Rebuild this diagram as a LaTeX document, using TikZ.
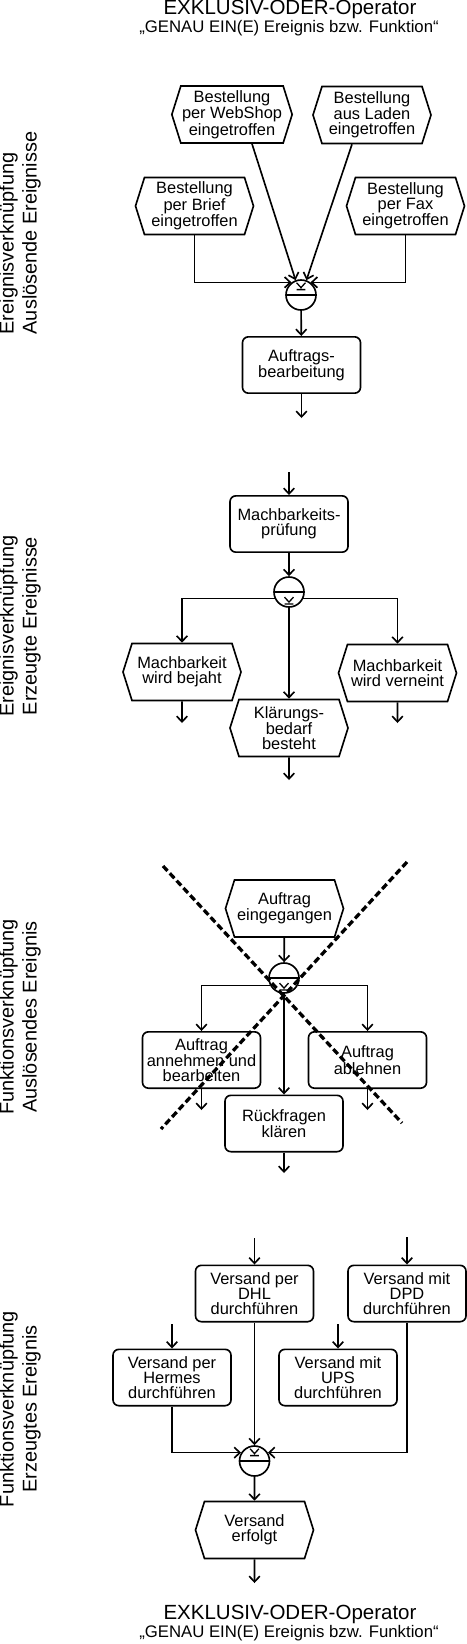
\documentclass[tikz,border=0pt]{standalone}
\usepackage{fontspec}
\setmainfont{Liberation Sans}
\usepackage{tikz}
\usetikzlibrary{arrows.meta,shapes.symbols,calc}
\newcommand{\diagfont}{\fontsize{14}{12.8}\selectfont}
% V mit Strich darunter (XOR-Zeichen), #1 = oberes Ende, #2 = Spitze, #3 = Strich
\newcommand{\xorMark}[3]{\draw[line width=1.1pt]
  ([shift={(-3.8pt,#1)}]path picture bounding box.center) --
  ([shift={(0pt,#2)}]path picture bounding box.center) --
  ([shift={(3.8pt,#1)}]path picture bounding box.center)
  ([shift={(-3.8pt,#3)}]path picture bounding box.center) --
  ([shift={(3.8pt,#3)}]path picture bounding box.center);}
\tikzstyle{eventNode}=[shape=signal, signal to=west and east, signal pointer angle=145,
  draw, line width=1.4pt, minimum width=3.54cm, minimum height=1.71cm, inner sep=1pt,
  align=center, font=\diagfont]
\tikzstyle{functionNode}=[rectangle, rounded corners=5pt, draw, line width=1.4pt,
  minimum width=3.54cm, minimum height=1.69cm, inner sep=1pt, align=center, font=\diagfont]
\tikzstyle{xorNode}=[circle, draw, line width=1.4pt, minimum size=0.9cm, inner sep=0pt]
\tikzstyle{xorUp}=[xorNode, path picture={\draw[line width=1.4pt] (path picture bounding box.west) -- (path picture bounding box.east);
  \xorMark{10.5pt}{6.3pt}{4.6pt}}]
\tikzstyle{xorDown}=[xorNode, path picture={\draw[line width=1.4pt] (path picture bounding box.west) -- (path picture bounding box.east);
  \xorMark{-4.4pt}{-8.6pt}{-10.3pt}}]
\tikzstyle{sideText}=[rotate=90, align=center, font=\fontsize{17}{19.6}\selectfont]
\tikzstyle{titleText}=[font=\fontsize{17.5}{20}\selectfont, inner sep=0pt]
\tikzstyle{subText}=[font=\fontsize{14.3}{16}\selectfont, inner sep=0pt]
\tikzstyle{arr}=[-{Straight Barb[length=1.7mm,width=3.2mm]}, line width=1.4pt]
\tikzstyle{crossLine}=[line width=2.8pt, dash pattern=on 2mm off 1mm]

\begin{document}
\begin{tikzpicture}[x=0.3mm, y=-0.3mm]
\useasboundingbox (0,0) rectangle (467,1644);
\node[titleText] (titleTop) at (290,9) {EXKLUSIV-ODER-Operator};
\node[subText] (subTop) at (289,28) {„GENAU EIN(E) Ereignis bzw. Funktion“};

% Ereignisverknuepfung, ausloesende Ereignisse
\node[sideText, align=left] (sideA) at (20,233) {Ereignisverknüpfung\\Auslösende Ereignisse};
\node[eventNode] (evWeb) at (232,114.5) {Bestellung\\per WebShop\\eingetroffen};
\node[eventNode] (evLaden) at (372,115) {Bestellung\\aus Laden\\eingetroffen};
\node[eventNode] (evBrief) at (194.5,206) {Bestellung\\per Brief\\eingetroffen};
\node[eventNode] (evFax) at (405.5,206) {Bestellung\\per Fax\\eingetroffen};
\node[xorUp] (xorA) at (301,295) {};
\node[functionNode] (fnAuftrag) at (301.5,365) {Auftrags-\\bearbeitung};
\coordinate (outAuftrag) at (301.5,418);

\draw[arr] ($(evWeb.south)+(20,0)$) -- (xorA.110);
\draw[arr] ($(evLaden.south)+(-20,0)$) -- (xorA.70);
\draw[arr] (evBrief.south) |- (xorA.127);
\draw[arr] (evFax.south) |- (xorA.53);
\draw[arr] (xorA) -- (fnAuftrag);
\draw[arr] (fnAuftrag) -- (outAuftrag);

% Ereignisverknuepfung, erzeugte Ereignisse
\node[sideText] (sideB) at (20,626) {Ereignisverknüpfung\\Erzeugte Ereignisse};
\coordinate (inMach) at (289,472);
\node[functionNode] (fnMach) at (289,524) {Machbarkeits-\\prüfung};
\node[xorDown] (xorB) at (289,592) {};
\node[eventNode] (evBejaht) at (182,672) {Machbarkeit\\wird bejaht};
\node[eventNode] (evVerneint) at (397.5,673) {Machbarkeit\\wird verneint};
\node[eventNode] (evKlaer) at (289,728) {Klärungs-\\bedarf\\besteht};
\coordinate (outBejaht) at (182,723);
\coordinate (outVerneint) at (397.5,723);
\coordinate (outKlaer) at (289,780);

\draw[arr] (inMach) -- (fnMach);
\draw[arr] (fnMach) -- (xorB);
\draw[arr] (xorB.204) -| (evBejaht.north);
\draw[arr] (xorB.336) -| (evVerneint.north);
\draw[arr] (xorB) -- (evKlaer);
\draw[arr] (evBejaht) -- (outBejaht);
\draw[arr] (evVerneint) -- (outVerneint);
\draw[arr] (evKlaer) -- (outKlaer);

% Funktionsverknuepfung, ausloesendes Ereignis
\node[sideText] (sideC) at (20,1017) {Funktionsverknüpfung\\Auslösendes Ereignis};
\node[eventNode] (evEing) at (284.5,908.5) {Auftrag\\eingegangen};
\node[xorDown] (xorC) at (284,978) {};
\node[functionNode] (fnAnnehmen) at (201.5,1060) {Auftrag\\annehmen und\\bearbeiten};
\node[functionNode] (fnAblehnen) at (367.5,1060) {Auftrag\\ablehnen};
\node[functionNode] (fnRueck) at (284,1123.5) {Rückfragen\\klären};
\coordinate (outAnnehmen) at (201.5,1110);
\coordinate (outAblehnen) at (367.5,1110);
\coordinate (outRueck) at (284,1173);

\draw[arr] (evEing) -- (xorC);
\draw[arr] (xorC.208) -| (fnAnnehmen.north);
\draw[arr] (xorC.332) -| (fnAblehnen.north);
\draw[arr] (xorC) -- (fnRueck);
\draw[arr] (fnAnnehmen) -- (outAnnehmen);
\draw[arr] (fnAblehnen) -- (outAblehnen);
\draw[arr] (fnRueck) -- (outRueck);
% nicht erlaubt
\draw[crossLine] (163,866) -- (402,1123);
\draw[crossLine] (407,862) -- (161,1129);

% Funktionsverknuepfung, erzeugtes Ereignis
\node[sideText] (sideD) at (20,1409) {Funktionsverknüpfung\\Erzeugtes Ereignis};
\coordinate (inDHL) at (254.5,1238);
\coordinate (inDPD) at (407,1237);
\coordinate (inHermes) at (172,1324);
\coordinate (inUPS) at (338,1324);
\node[functionNode] (fnDHL) at (254.5,1293.5) {Versand per\\DHL\\durchführen};
\node[functionNode] (fnDPD) at (407,1293.5) {Versand mit\\DPD\\durchführen};
\node[functionNode] (fnHermes) at (172,1377.5) {Versand per\\Hermes\\durchführen};
\node[functionNode] (fnUPS) at (338,1377.5) {Versand mit\\UPS\\durchführen};
\node[xorUp] (xorD) at (254.5,1461) {};
\node[eventNode] (evErfolgt) at (254.5,1530) {Versand\\erfolgt};
\coordinate (outErfolgt) at (254.5,1583);

\draw[arr] (inDHL) -- (fnDHL);
\draw[arr] (inDPD) -- (fnDPD);
\draw[arr] (inHermes) -- (fnHermes);
\draw[arr] (inUPS) -- (fnUPS);
\draw[arr] (fnDHL) -- (xorD);
\draw[arr] (fnHermes.south) |- (xorD.148);
\draw[arr] (fnDPD.south) |- (xorD.32);
\draw[arr] (xorD) -- (evErfolgt);
\draw[arr] (evErfolgt) -- (outErfolgt);

\node[titleText] (titleBottom) at (290,1614) {EXKLUSIV-ODER-Operator};
\node[subText] (subBottom) at (289,1633) {„GENAU EIN(E) Ereignis bzw. Funktion“};
\end{tikzpicture}
\end{document}
